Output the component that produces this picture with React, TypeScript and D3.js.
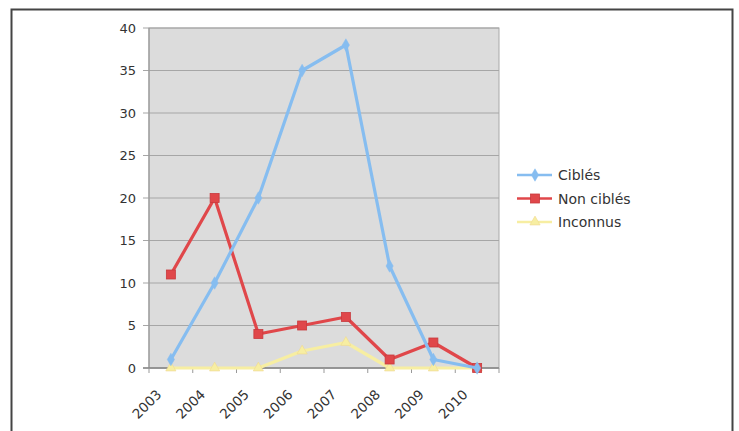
import React from "react";
import * as d3 from "d3";

const years = ["2003", "2004", "2005", "2006", "2007", "2008", "2009", "2010"];
const cibles = [1, 10, 20, 35, 38, 12, 1, 0];
const nonCibles = [11, 20, 4, 5, 6, 1, 3, 0];
const inconnus = [0, 0, 0, 2, 3, 0, 0, 0];
const yTicks = [0, 5, 10, 15, 20, 25, 30, 35, 40];

const seriesList = [
  { name: "Ciblés", values: cibles, color: "#86bdf0", marker: "diamond" },
  { name: "Non ciblés", values: nonCibles, color: "#e0474a", marker: "square" },
  { name: "Inconnus", values: inconnus, color: "#f7eea2", marker: "triangle" },
];

const W = 739, H = 431;
const left = 149, right = 499, top = 28, bottom = 368;
const font = "'DejaVu Sans', Verdana, sans-serif";

function Marker({ type, x, y, color }: { type: string; x: number; y: number; color: string }) {
  if (type === "diamond") {
    const sym = d3.symbol(d3.symbolDiamond, 45)();
    return <path d={sym || ""} transform={`translate(${x},${y})`} fill={color} stroke={color} strokeWidth={0.5} />;
  }
  if (type === "square") {
    return <rect x={x - 4.5} y={y - 4.5} width={9} height={9} fill={color} stroke="#c83a3d" strokeWidth={0.8} />;
  }
  const sym = d3.symbol(d3.symbolTriangle, 45)();
  return <path d={sym || ""} transform={`translate(${x},${y})`} fill={color} stroke="#f0d890" strokeWidth={0.6} />;
}

export default function App() {
  const x = d3.scaleBand<string>().domain(years).range([left, right]).padding(0);
  const y = d3.scaleLinear().domain([0, 40]).range([bottom, top]);
  const cx = (d: string) => (x(d) || 0) + x.bandwidth() / 2;
  const line = d3
    .line<number>()
    .x((_, i) => cx(years[i]))
    .y((v) => y(v));

  const tickXs = years.map((d) => x(d) || 0).concat([right]);

  return (
    <svg width={W} height={H} style={{ position: "absolute", left: 0, top: 0, background: "#fff" }}>
      <rect x={0} y={0} width={W} height={H} fill="#fff" />
      {/* frame */}
      <path d={`M11.5,${H + 5} L11.5,9.5 L732.5,9.5 L732.5,${H + 5}`} fill="none" stroke="#444" strokeWidth={2} />
      {/* plot area */}
      <rect x={left} y={top} width={right - left} height={bottom - top} fill="#dcdcdc" stroke="#a9a9a9" strokeWidth={1} />
      {yTicks.map((t) => (
        <g key={t}>
          <line x1={left - 6} x2={right} y1={y(t)} y2={y(t)} stroke="#a6a6a6" strokeWidth={1.2} />
          <text x={136} y={y(t)} dy="0.36em" textAnchor="end" fontFamily={font} fontSize={13} fill="#333">
            {t}
          </text>
        </g>
      ))}
      <line x1={left} x2={left} y1={top} y2={bottom} stroke="#999" strokeWidth={1.2} />
      <line x1={left - 6} x2={right} y1={bottom} y2={bottom} stroke="#8a8a8a" strokeWidth={1.5} />
      {tickXs.map((tx, i) => (
        <line key={i} x1={tx} x2={tx} y1={bottom} y2={bottom + 5} stroke="#999" strokeWidth={1} />
      ))}
      {years.map((d) => (
        <text
          key={d}
          transform={`translate(${cx(d) - 12},${bottom + 24}) rotate(-45)`}
          textAnchor="end"
          dy="0.36em"
          fontFamily={font}
          fontSize={13.5}
          fill="#333"
        >
          {d}
        </text>
      ))}
      {[...seriesList].reverse().map((s) => (
        <g key={s.name}>
          <path d={line(s.values) || ""} fill="none" stroke={s.color} strokeWidth={3.2} strokeLinejoin="round" />
          {s.values.map((v, i) => (
            <Marker key={i} type={s.marker} x={cx(years[i])} y={y(v)} color={s.color} />
          ))}
        </g>
      ))}
      {/* legend */}
      {seriesList.map((s, i) => {
        const ly = 175 + i * 23.5;
        return (
          <g key={s.name}>
            <line x1={517} x2={552} y1={ly} y2={ly} stroke={s.color} strokeWidth={2.5} />
            <Marker type={s.marker} x={535} y={ly} color={s.color} />
            <text x={558} y={ly} dy="0.36em" fontFamily={font} fontSize={14} fill="#333">
              {s.name}
            </text>
          </g>
        );
      })}
    </svg>
  );
}
